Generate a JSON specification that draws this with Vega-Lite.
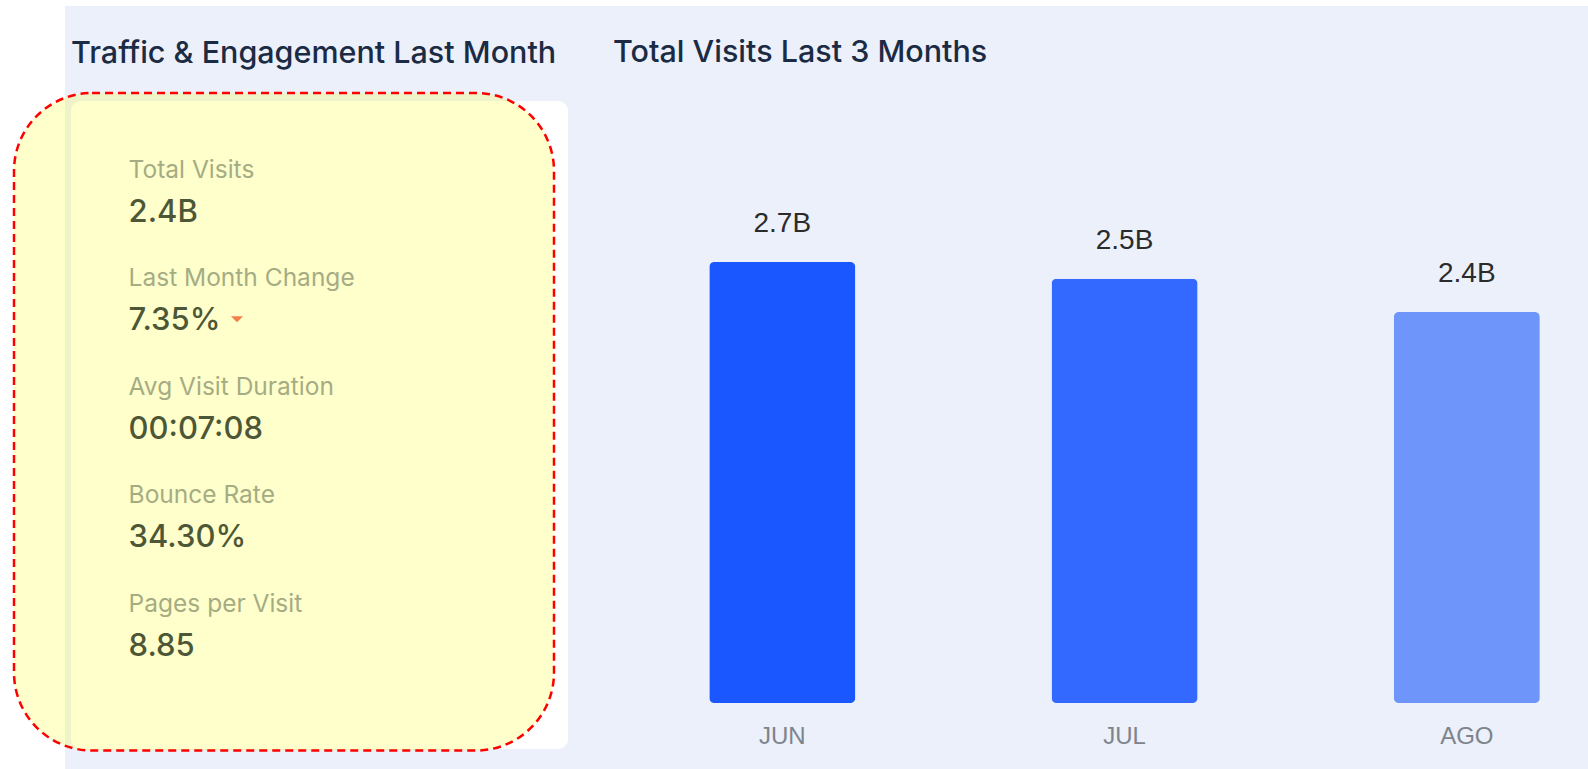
{
  "$schema": "https://vega.github.io/schema/vega-lite/v6.json",
  "background": "#EBF0FA",
  "padding": 0,
  "bounds": "flush",
  "spacing": 43,
  "config": {"view": {"stroke": null}, "font": "Inter"},
  "hconcat": [
    {
      "width": 497,
      "height": 648,
      "view": {"fill": "#FFFFFF", "cornerRadius": 10, "stroke": null},
      "data": {"values": [
        {"metric": "Total Visits", "value": "2.4B"},
        {"metric": "Last Month Change", "value": "7.35%", "change": "down"},
        {"metric": "Avg Visit Duration", "value": "00:07:08"},
        {"metric": "Bounce Rate", "value": "34.30%"},
        {"metric": "Pages per Visit", "value": "8.85"}
      ]},
      "resolve": {"scale": {"x": "independent", "y": "independent"}},
      "layer": [
        {
          "data": {"values": [{}]},
          "mark": {"type": "rect", "fill": "#FFFFFF"},
          "encoding": {
            "x": {"datum": -71, "type": "quantitative", "scale": {"domain": [0, 497], "nice": false, "zero": false}, "axis": null},
            "x2": {"datum": -6},
            "y": {"datum": -101, "type": "quantitative", "scale": {"domain": [0, 648], "nice": false, "zero": false, "reverse": true}, "axis": null},
            "y2": {"datum": 668}
          }
        },
        {
          "data": {"values": [{}]},
          "mark": {"type": "rect", "fill": "#FFFFFF"},
          "encoding": {
            "x": {"datum": -71, "type": "quantitative", "scale": {"domain": [0, 497], "nice": false, "zero": false}, "axis": null},
            "x2": {"datum": 1517},
            "y": {"datum": -101, "type": "quantitative", "scale": {"domain": [0, 648], "nice": false, "zero": false, "reverse": true}, "axis": null},
            "y2": {"datum": -95}
          }
        },
        {
          "data": {"values": [{}]},
          "mark": {"type": "text", "text": "Traffic & Engagement Last Month", "align": "left", "baseline": "alphabetic", "font": "Inter", "fontSize": 30.5, "fontWeight": 500, "color": "#1B2B44"},
          "encoding": {
            "x": {"datum": 0, "type": "quantitative", "scale": {"domain": [0, 497], "nice": false, "zero": false}, "axis": null},
            "y": {"datum": -38, "type": "quantitative", "scale": {"domain": [0, 648], "nice": false, "zero": false, "reverse": true}, "axis": null}
          }
        },
        {
          "mark": {"type": "text", "align": "left", "baseline": "alphabetic", "dy": -12, "font": "Inter", "fontSize": 24.5, "color": "#8F98A6"},
          "encoding": {
            "x": {"datum": 57.6, "type": "quantitative", "scale": {"domain": [0, 497], "nice": false, "zero": false}, "axis": null},
            "y": {"field": "metric", "type": "nominal", "sort": null, "scale": {"domain": ["Total Visits", "Last Month Change", "Avg Visit Duration", "Bounce Rate", "Pages per Visit"], "padding": 0.986, "align": 0.415}, "axis": null},
            "text": {"field": "metric"}
          }
        },
        {
          "mark": {"type": "text", "align": "left", "baseline": "alphabetic", "dy": 32, "font": "Inter", "fontSize": 31, "fontWeight": 500, "color": "#1F2D45"},
          "encoding": {
            "x": {"datum": 57.6, "type": "quantitative", "scale": {"domain": [0, 497], "nice": false, "zero": false}, "axis": null},
            "y": {"field": "metric", "type": "nominal", "sort": null, "scale": {"domain": ["Total Visits", "Last Month Change", "Avg Visit Duration", "Bounce Rate", "Pages per Visit"], "padding": 0.986, "align": 0.415}, "axis": null},
            "text": {"field": "value"}
          }
        },
        {
          "transform": [{"filter": "datum.change === 'down'"}],
          "mark": {"type": "point", "shape": "M-1,-0.5L1,-0.5L0,0.5Z", "size": 144, "filled": true, "color": "#F0605A", "opacity": 1},
          "encoding": {
            "x": {"datum": 166, "type": "quantitative", "scale": {"domain": [0, 497], "nice": false, "zero": false}, "axis": null},
            "y": {"field": "metric", "type": "nominal", "sort": null, "scale": {"domain": ["Total Visits", "Last Month Change", "Avg Visit Duration", "Bounce Rate", "Pages per Visit"], "padding": 0.986, "align": 0.415}, "axis": null},
            "yOffset": {"value": 21}
          }
        },
        {
          "data": {"values": [{}]},
          "mark": {"type": "rect", "fill": "#FFFF00", "fillOpacity": 0.2, "stroke": "#FF0000", "strokeOpacity": 1, "strokeWidth": 2.5, "strokeDash": [8, 5], "cornerRadius": 78},
          "encoding": {
            "x": {"datum": -57, "type": "quantitative", "scale": {"domain": [0, 497], "nice": false, "zero": false}, "axis": null},
            "x2": {"datum": 483},
            "y": {"datum": -8, "type": "quantitative", "scale": {"domain": [0, 648], "nice": false, "zero": false, "reverse": true}, "axis": null},
            "y2": {"datum": 649.5}
          }
        }
      ]
    },
    {
      "width": 977,
      "height": 602,
      "title": {"text": "Total Visits Last 3 Months", "anchor": "start", "frame": "group", "dx": 2, "offset": 8.6, "baseline": "alphabetic", "font": "Inter", "fontSize": 30.5, "fontWeight": 500, "color": "#1B2B44"},
      "data": {"values": [
        {"month": "JUN", "visits": 2650000000, "label": "2.7B"},
        {"month": "JUL", "visits": 2550000000, "label": "2.5B"},
        {"month": "AGO", "visits": 2350000000, "label": "2.4B"}
      ]},
      "encoding": {
        "x": {
          "field": "month", "type": "nominal", "sort": null,
          "scale": {"paddingInner": 0.5734, "paddingOuter": 0.214, "align": 0.671},
          "axis": {"title": null, "domain": false, "ticks": false, "labelAngle": 0, "labelFont": "Liberation Sans", "labelFontSize": 24, "labelColor": "#7D848C", "labelBaseline": "alphabetic", "labelPadding": 40}
        },
        "y": {"field": "visits", "type": "quantitative", "scale": {"domain": [0, 3618000000], "nice": false}, "axis": null}
      },
      "layer": [
        {
          "mark": {"type": "bar", "cornerRadius": 5},
          "encoding": {
            "color": {"field": "month", "type": "nominal", "scale": {"domain": ["JUN", "JUL", "AGO"], "range": ["#1A57FF", "#3369FF", "#6E96FA"]}, "legend": null}
          }
        },
        {
          "mark": {"type": "text", "baseline": "alphabetic", "dy": -30, "font": "Liberation Sans", "fontSize": 28, "color": "#2B2B2B"},
          "encoding": {"text": {"field": "label"}}
        }
      ]
    }
  ]
}
